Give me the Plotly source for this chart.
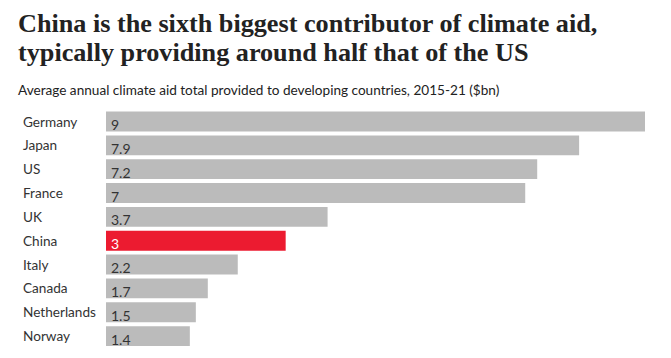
import plotly.graph_objects as go

countries = ["Germany", "Japan", "US", "France", "UK", "China", "Italy", "Canada", "Netherlands", "Norway"]
values = [9, 7.9, 7.2, 7, 3.7, 3, 2.2, 1.7, 1.5, 1.4]
value_labels = ["9", "7.9", "7.2", "7", "3.7", "3", "2.2", "1.7", "1.5", "1.4"]
highlight = "China"
title_lines = ["China is the sixth biggest contributor of climate aid,",
               "typically providing around half that of the US"]
subtitle = "Average annual climate aid total provided to developing countries, 2015-21 ($bn)"

GREY = "#bbbbbb"
RED = "#ec1b30"
TEXT = "#333333"
SANS = "Lato, 'Noto Sans', sans-serif"

colors = [RED if c == highlight else GREY for c in countries]

fig = go.Figure(go.Bar(
    x=values, y=countries, orientation="h",
    marker=dict(color=colors, line=dict(width=0)),
    hoverinfo="skip",
))

annotations = []
for c, v, lab in zip(countries, values, value_labels):
    annotations.append(dict(
        x=0, y=c, xref="x", yref="y", text=lab, showarrow=False,
        xanchor="left", yanchor="middle", xshift=3, yshift=-3,
        font=dict(family=SANS, size=14, color="#ffffff" if c == highlight else TEXT),
    ))
    annotations.append(dict(
        x=0, y=c, xref="paper", yref="y", text=c, showarrow=False,
        xanchor="left", yanchor="middle", xshift=-85, yshift=0,
        font=dict(family=SANS, size=13.6, color=TEXT),
    ))

for line, shift in zip(title_lines, [101, 72]):
    annotations.append(dict(
        x=0, y=1, xref="paper", yref="paper", xshift=-90, yshift=shift,
        text="<b>" + line + "</b>",
        showarrow=False, xanchor="left", yanchor="top", align="left",
        font=dict(family="'Liberation Serif', serif", size=26.2, color="#222222"),
    ))
annotations.append(dict(
    x=0, y=1, xref="paper", yref="paper", xshift=-90, yshift=8,
    text=subtitle,
    showarrow=False, xanchor="left", yanchor="bottom", align="left",
    font=dict(family=SANS, size=13.6, color="#222222"),
))

fig.update_layout(
    width=671, height=358,
    margin=dict(l=106, r=26, t=108, b=10),
    paper_bgcolor="white", plot_bgcolor="white",
    bargap=4/24,
    showlegend=False,
    xaxis=dict(range=[0, 9], visible=False, fixedrange=True),
    yaxis=dict(autorange="reversed", visible=False, fixedrange=True),
    annotations=annotations,
)

fig.write_html("out.html", config={"displayModeBar": False},
               post_script="document.body.style.margin='0';")
